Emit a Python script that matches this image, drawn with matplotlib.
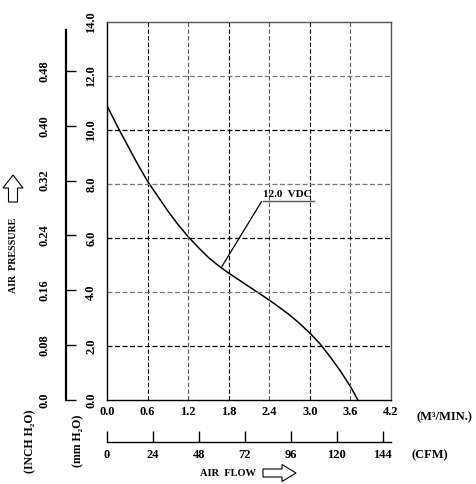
import matplotlib
matplotlib.use("Agg")
import matplotlib.pyplot as plt
from matplotlib.patches import FancyArrow

# fan curve, 12.0 VDC (flow in M3/MIN, pressure in mm H2O)
flow = [0.0, 0.15, 0.3, 0.45, 0.6, 0.75, 0.9, 1.05, 1.2, 1.35, 1.5, 1.65, 1.8,
        1.95, 2.1, 2.25, 2.4, 2.55, 2.7, 2.85, 3.0, 3.15, 3.3, 3.45, 3.6, 3.71]
pressure = [10.9, 10.15, 9.45, 8.75, 8.1, 7.55, 7.0, 6.5, 6.05, 5.65, 5.28, 4.97, 4.7,
            4.45, 4.2, 3.95, 3.7, 3.43, 3.15, 2.83, 2.48, 2.08, 1.6, 1.08, 0.5, 0.0]

x_ticks = [0.0, 0.6, 1.2, 1.8, 2.4, 3.0, 3.6, 4.2]
mm_ticks = [0.0, 2.0, 4.0, 6.0, 8.0, 10.0, 12.0, 14.0]
inch_ticks = [0.0, 0.08, 0.16, 0.24, 0.32, 0.40, 0.48]
inch_labels = ["0.0", "0.08", "0.16", "0.24", "0.32", "0.40", "0.48"]
cfm_ticks = [0, 24, 48, 72, 96, 120, 144]

M3_PER_CFM = 0.0283168
MM_PER_INCH = 25.4

plt.rcParams['font.family'] = ['Liberation Serif', 'DejaVu Serif']
plt.rcParams['font.weight'] = 'bold'
fs = 9

W, H = 477, 484
fig = plt.figure(figsize=(W / 100, H / 100), dpi=100)
ax = fig.add_axes([107 / W, 1 - 400 / H, 284 / W, 378 / H])

ax.plot(flow, pressure, color='black', lw=1.1)
ax.set_xlim(0, 4.2)
ax.set_ylim(0, 14)

# grid, alternating grey / black dashes
for i, v in enumerate(x_ticks[1:-1]):
    ax.axvline(v, color='#555555' if i % 2 else 'black', lw=0.8, ls=(0, (4, 2)))
for i, v in enumerate(mm_ticks[1:-1]):
    ax.axhline(v, color='black' if i % 2 == 0 else '#777777', lw=0.9, ls=(0, (4, 2)))

for s in ['top', 'right']:
    ax.spines[s].set_color('#555555')
for s in ax.spines.values():
    s.set_linewidth(1.0)

ax.set_xticks(x_ticks)
ax.set_xticklabels([f"{v:.1f}" for v in x_ticks], fontsize=fs, fontweight='bold')
ax.set_yticks(mm_ticks)
ax.set_yticklabels([f"{v:.1f}" for v in mm_ticks], fontsize=fs, fontweight='bold',
                   rotation=90, va='center')
ax.tick_params(axis='both', length=0)
ax.tick_params(axis='x', pad=4)
ax.tick_params(axis='y', pad=7)

# inch H2O axis on the far left
sec_y = ax.secondary_yaxis((66 - 107) / 284,
                           functions=(lambda m: m / MM_PER_INCH, lambda i: i * MM_PER_INCH))
sec_y.set_yticks(inch_ticks)
sec_y.set_yticklabels(inch_labels, fontsize=fs, fontweight='bold', rotation=90, va='center')
sec_y.tick_params(direction='in', length=7, width=1.0, pad=11)
sec_y.spines['left'].set_bounds(0, 0.54)
sec_y.spines['left'].set_linewidth(1.6)

# CFM axis below
sec_x = ax.secondary_xaxis((400 - 442) / 378,
                           functions=(lambda m: m / M3_PER_CFM, lambda c: c * M3_PER_CFM))
sec_x.set_xticks(cfm_ticks)
sec_x.set_xticklabels([str(v) for v in cfm_ticks], fontsize=fs, fontweight='bold')
sec_x.tick_params(direction='in', length=8, width=1.0, pad=5)
sec_x.spines['bottom'].set_bounds(0, 4.2 / M3_PER_CFM)
sec_x.spines['bottom'].set_linewidth(1.0)

# annotation
ax.annotate("12.0  VDC", xy=(1.70, 4.95), xytext=(2.31, 7.45), fontsize=8,
            fontweight='bold', ha='left', va='bottom',
            arrowprops=dict(arrowstyle='-', color='black', lw=0.9, shrinkA=0, shrinkB=0,
                            relpos=(0, 0)))
ax.plot([2.30, 3.06], [7.37, 7.37], color='#555555', lw=1.0, clip_on=False)

# outer labels
fig.text(444 / W, 1 - 417 / H, "(M³/MIN.)", fontsize=fs, fontweight='bold',
         ha='center', va='center')
fig.text(430 / W, 1 - 455 / H, "(CFM)", fontsize=fs, fontweight='bold',
         ha='center', va='center')
fig.text(228 / W, 1 - 473 / H, "AIR  FLOW", fontsize=7.5, fontweight='bold',
         ha='center', va='center')
fig.text(14 / W, 1 - 255 / H, "AIR  PRESSURE", fontsize=7.2, fontweight='bold',
         ha='center', va='center', rotation=90)
fig.text(30 / W, 1 - 441 / H, "(INCH H₂O)", fontsize=8.5, fontweight='bold',
         ha='center', va='center', rotation=90)
fig.text(78 / W, 1 - 441 / H, "(mm H₂O)", fontsize=8.5, fontweight='bold',
         ha='center', va='center', rotation=90)

# hollow arrows (figure pixel coords)
def px(x, y):
    return x / W, 1 - y / H

arr_kw = dict(transform=fig.transFigure, facecolor='white', edgecolor='black',
              lw=0.8, length_includes_head=True)
x0, y0 = px(263, 473)
x1, _ = px(296, 473)
fig.patches.append(FancyArrow(x0, y0, x1 - x0, 0, width=8 / H, head_width=17 / H,
                              head_length=14 / W, **arr_kw))
x0, y0 = px(13, 202)
_, y1 = px(13, 175)
fig.patches.append(FancyArrow(x0, y0, 0, y1 - y0, width=9 / W, head_width=20 / W,
                              head_length=13 / H, **arr_kw))

fig.savefig("out.png", dpi=100, facecolor='white')
